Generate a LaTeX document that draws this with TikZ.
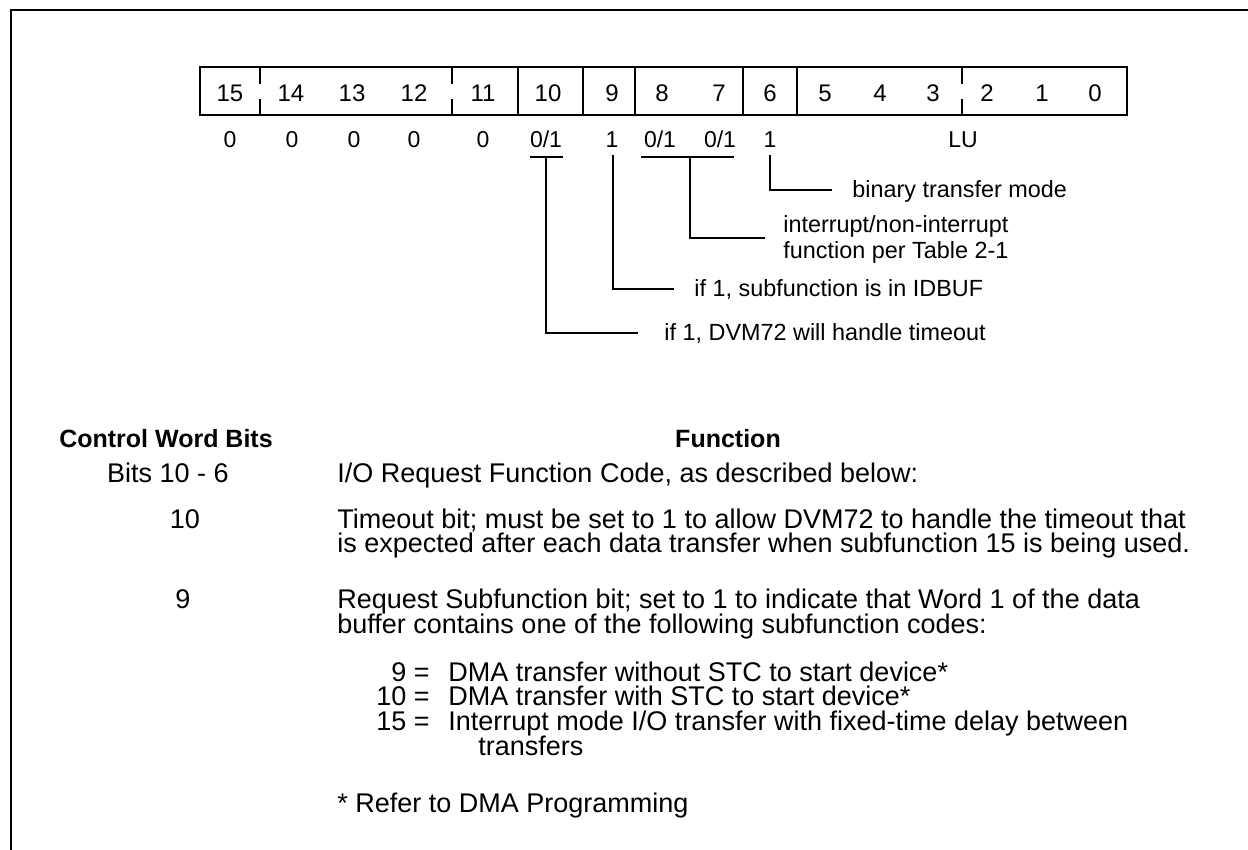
\documentclass[tikz,border=0pt]{standalone}
\usepackage{fontspec}
\setmainfont{Liberation Sans}
\usetikzlibrary{calc}
\begin{document}
\begin{tikzpicture}[x=0.5pt,y=-0.5pt,
  frameline/.style={line width=1.2pt},
  regline/.style={line width=1.3pt},
  lead/.style={line width=1pt},
  capc/.style={inner sep=0pt, text height=0.72em, text depth=0pt},
  bitnum/.style={capc, font=\fontsize{12}{12}\selectfont},
  val/.style={capc, font=\fontsize{11.5}{12}\selectfont},
  ann/.style={capc, font=\fontsize{11.7}{12}\selectfont, anchor=west},
  body/.style={capc, font=\fontsize{13.5}{13.5}\selectfont, anchor=west},
  head/.style={capc, font=\bfseries\fontsize{12.5}{13}\selectfont}]
\useasboundingbox (0,0) rectangle (1248,850);
% frame
\draw[frameline] (11,850) -- (11,10) -- (1248,10);
% register
\draw[regline] (200,67) rectangle (1127,115);
\foreach \x in {518,583,635,743,797} \draw[regline] (\x,67) -- (\x,115);
\foreach \x in {260,452,962} {\draw[regline] (\x,67) -- (\x,84); \draw[regline] (\x,99) -- (\x,115);}
\foreach \n/\x in {15/230,14/291,13/352,12/414,11/483,10/548,9/612,8/662,7/719,6/770,5/825,4/880,3/933,2/987,1/1042,0/1095}
  \node[bitnum] (b\n) at (\x,94) {\n};
% values
\foreach \n/\x in {15/230,14/292,13/354,12/414,11/483}
  \node[val] (v\n) at (\x,140) {0};
\node[val] (v10) at (546,140) {0/1};
\node[val] (v9) at (612,140) {1};
\node[val] (v8) at (660,140) {0/1};
\node[val] (v7) at (720,140) {0/1};
\node[val] (v6) at (770,140) {1};
\node[val] (vlu) at (963,140) {LU};
% underlines and leader starts
\coordinate (u10) at (546,157);
\coordinate (u9) at (613,155);
\coordinate (u87) at (690,157);
\coordinate (u6) at (770,155);
\draw[lead] (530,157) -- (563,157);
\draw[lead] (641,157) -- (734,157);
% annotations
\node[ann] (a6) at (852,190) {binary transfer mode};
\node[ann] (a87a) at (783,225) {interrupt/non-interrupt};
\node[ann] (a87b) at (783,251) {function per Table 2-1};
\coordinate (a87) at ($(a87a.west)!0.5!(a87b.west)$);
\node[ann] (a9) at (694,289) {if 1, subfunction is in IDBUF};
\node[ann] (a10) at (664,333) {if 1, DVM72 will handle timeout};
\draw[lead] (u6) |- ([xshift=-10pt]a6.west);
\draw[lead] (u87) |- ([xshift=-9pt]a87);
\draw[lead] (u9) |- ([xshift=-10pt]a9.west);
\draw[lead] (u10) |- ([xshift=-13pt]a10.west);
% table
\node[head] (hcw) at (166,440) {Control Word Bits};
\node[head] (hfn) at (728,440) {Function};
\node[body, anchor=center] (c1) at (168,475) {Bits 10 - 6};
\node[body] (d1) at (337,475) {I/O Request Function Code, as described below:};
\node[body, anchor=center] (c2) at (185,521) {10};
\node[body] (d2a) at (337,521) {Timeout bit; must be set to 1 to allow DVM72 to handle the timeout that};
\node[body] (d2b) at (337,545) {is expected after each data transfer when subfunction 15 is being used.};
\node[body, anchor=center] (c3) at (183,601) {9};
\node[body] (d3a) at (337,601) {Request Subfunction bit; set to 1 to indicate that Word 1 of the data};
\node[body] (d3b) at (337,626) {buffer contains one of the following subfunction codes:};
\node[body, anchor=east] (k9) at (430,674) {9 =};
\node[body] (s9) at (448,674) {DMA transfer without STC to start device*};
\node[body, anchor=east] (k10) at (430,698) {10 =};
\node[body] (s10) at (448,698) {DMA transfer with STC to start device*};
\node[body, anchor=east] (k15) at (430,723) {15 =};
\node[body] (s15) at (448,723) {Interrupt mode I/O transfer with fixed-time delay between};
\node[body] (s15b) at (478,748) {transfers};
\node[body] (ref) at (337,805) {* Refer to DMA Programming};
\end{tikzpicture}
\end{document}
